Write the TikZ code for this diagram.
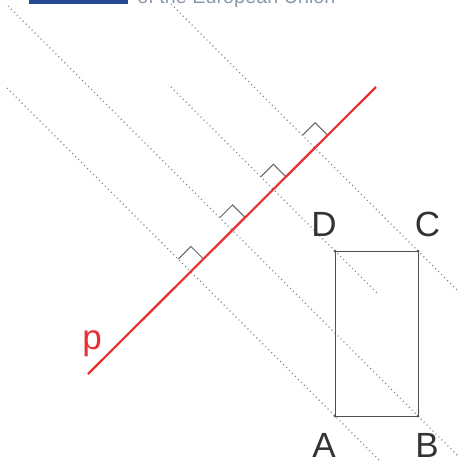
\documentclass[tikz,border=0pt]{standalone}
\usepackage{fontspec}
\setmainfont{Liberation Sans}
\usetikzlibrary{calc}
\definecolor{pred}{RGB}{232,48,48}
\definecolor{ebar}{RGB}{40,72,150}
\definecolor{etext}{RGB}{140,152,170}
\definecolor{edge}{RGB}{80,80,80}
\begin{document}
\begin{tikzpicture}[x=0.5pt,y=-0.5pt,
  dotline/.style={draw=gray, line width=0.55pt, dash pattern=on 0.5pt off 1.6pt},
  rectedge/.style={draw=edge, line width=0.5pt},
  redline/.style={draw=pred, line width=1.1pt},
  rightmark/.style={draw=gray!80!black, line width=0.5pt},
  lbl/.style={font=\fontsize{17.5}{20}\selectfont, text=black!80, inner sep=0pt, anchor=base},
  vdot/.style={fill=edge, draw=none}]
\useasboundingbox (0,0) rectangle (459,461);
\clip (0,0) rectangle (459,461);
% header remnant
\fill[ebar] (29,-10) rectangle (128,4);
\node[font=\fontsize{9.9}{11}\selectfont, text=etext, inner sep=0pt, anchor=base west] (hdr) at (137,3) {of the European Union};
% points
\coordinate (A) at (335,416);
\coordinate (B) at (418,416);
\coordinate (C) at (418,251);
\coordinate (D) at (335,251);
% line p
\coordinate (p1) at (88,374);
\coordinate (p2) at (376,87);
% dotted perpendiculars
\coordinate (a1) at (7,88);   \coordinate (a2) at (382,463);
\coordinate (b1) at (8,6);    \coordinate (b2) at (462,460);
\coordinate (c1) at (171,4);  \coordinate (c2) at (462,295);
\coordinate (d1) at (171,87); \coordinate (d2) at (377,293);
\draw[dotline] (a1) -- (a2);
\draw[dotline] (b1) -- (b2);
\draw[dotline] (c1) -- (c2);
\draw[dotline] (d1) -- (d2);
% rectangle
\draw[rectedge] (A) -- (B) -- (C) -- (D) -- cycle;
\foreach \q in {A,B,C,D} \fill[vdot] (\q) circle (1.5);
% feet of perpendiculars
\coordinate (fA) at ($(p1)!(A)!(p2)$);
\coordinate (fB) at ($(p1)!(B)!(p2)$);
\coordinate (fC) at ($(p1)!(C)!(p2)$);
\coordinate (fD) at ($(p1)!(D)!(p2)$);
\foreach \f in {fA,fB,fC,fD}
  \draw[rightmark] (\f) ++(-12.5,-12.5) -- ++(12.5,-12.5) -- ++(12.5,12.5);
\draw[redline] (p1) -- (p2);
% labels
\node[lbl] (lA) at (324,457) {A};
\node[lbl] (lB) at (427,457) {B};
\node[lbl] (lC) at (427.5,236) {C};
\node[lbl] (lD) at (324,236) {D};
\node[lbl, text=pred] (lp) at (92,349) {p};
\end{tikzpicture}
\end{document}
